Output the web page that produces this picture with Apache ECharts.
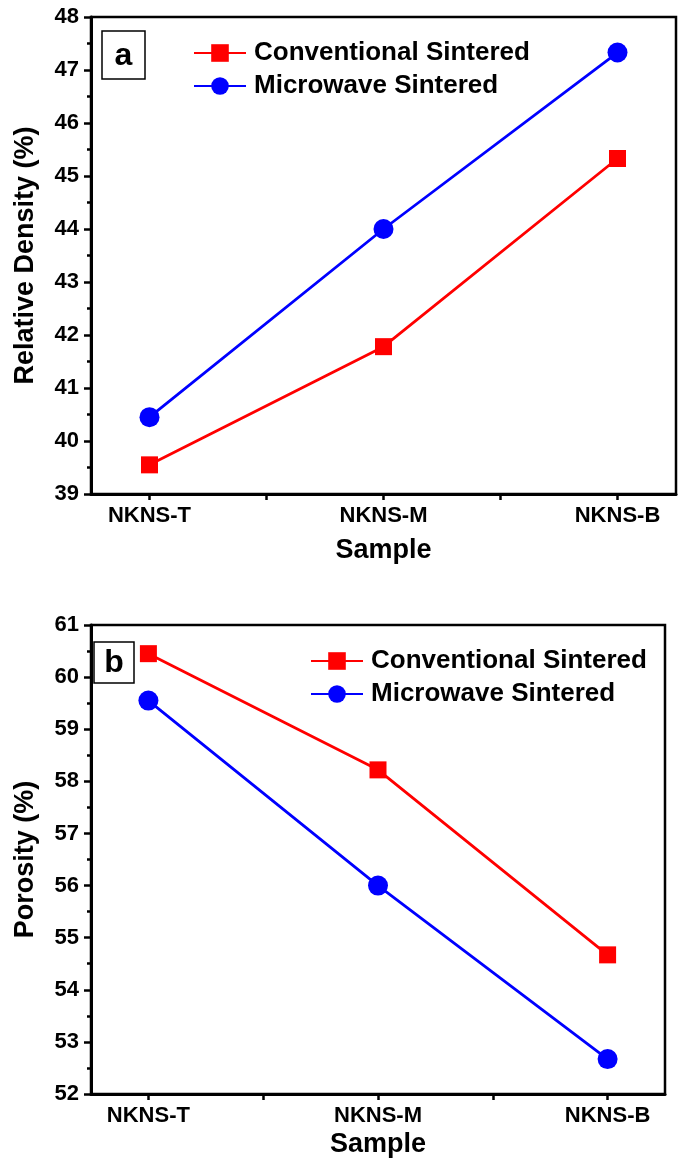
<!DOCTYPE html>
<html>
<head>
<meta charset="utf-8">
<script src="https://cdn.jsdelivr.net/npm/echarts@6/dist/echarts.min.js"></script>
<style>
  html, body { margin: 0; padding: 0; background: #fff; }
  #chart { width: 685px; height: 1167px; }
</style>
</head>
<body>
<div id="chart"></div>
<script>
// data
const samples = ['NKNS-T', 'NKNS-M', 'NKNS-B'];
const densityConventional = [39.55, 41.78, 45.33];
const densityMicrowave = [40.45, 44.0, 47.33];
const porosityConventional = [60.45, 58.22, 54.67];
const porosityMicrowave = [59.55, 56.0, 52.67];

const FONT = 'Liberation Sans, Arial, sans-serif';
const RED = '#ff0000';
const BLUE = '#0000ff';

function pairs(vals) {
    return vals.map((v, i) => [i, v]);
}

function xAxis(gridIndex, nameGap) {
    return {
        gridIndex: gridIndex,
        type: 'value',
        min: -0.25,
        max: 2.25,
        interval: 0.5,
        name: 'Sample',
        nameLocation: 'middle',
        nameGap: nameGap,
        nameTextStyle: { fontFamily: FONT, fontWeight: 'bold', fontSize: 27, color: '#000' },
        axisLine: { onZero: false, lineStyle: { color: '#000', width: 3 } },
        axisTick: { show: true, length: 6, lineStyle: { color: '#000', width: 2.5 },
            customValues: [0, 0.5, 1, 1.5, 2] },
        axisLabel: {
            fontFamily: FONT, fontWeight: 'bold', fontSize: 22, color: '#000', margin: 11,
            customValues: [0, 1, 2],
            formatter: v => samples[Math.round(v)] || ''
        },
        splitLine: { show: false }
    };
}

function yAxis(gridIndex, min, max, name) {
    return {
        gridIndex: gridIndex,
        type: 'value',
        min: min,
        max: max,
        interval: 1,
        name: name,
        nameLocation: 'middle',
        nameGap: 52,
        nameTextStyle: { fontFamily: FONT, fontWeight: 'bold', fontSize: 27, color: '#000' },
        axisLine: { show: true, onZero: false, lineStyle: { color: '#000', width: 3 } },
        axisTick: { show: true, length: 7, lineStyle: { color: '#000', width: 2.5 } },
        minorTick: { show: true, splitNumber: 2, length: 4, lineStyle: { color: '#000', width: 2.5 } },
        axisLabel: { fontFamily: FONT, fontWeight: 'bold', fontSize: 22, color: '#000', margin: 12 },
        splitLine: { show: false }
    };
}

function lineSeries(name, vals, idx, symbol, size, color) {
    return {
        name: name,
        type: 'line',
        xAxisIndex: idx,
        yAxisIndex: idx,
        data: pairs(vals),
        symbol: symbol,
        symbolSize: size,
        showAllSymbol: true,
        lineStyle: { color: color, width: 2.8 },
        itemStyle: { color: color },
        z: symbol === 'rect' ? 3 : 4
    };
}

function legend(left, top) {
    return {
        orient: 'vertical',
        left: left,
        top: top,
        padding: 0,
        itemWidth: 52,
        itemHeight: 22,
        itemGap: 7,
        data: ['Conventional Sintered', 'Microwave Sintered'],
        textStyle: { fontFamily: FONT, fontWeight: 'bold', fontSize: 26, lineHeight: 26,
                     color: '#000', padding: [0, 0, 0, 3] }
    };
}

function labelBox(letter, x, y, w, h) {
    return {
        type: 'group',
        children: [
            { type: 'rect', shape: { x: x, y: y, width: w, height: h },
              style: { fill: '#fff', stroke: '#000', lineWidth: 1.5 } },
            { type: 'text', x: x + w / 2, y: y + h / 2 + 1,
              style: { text: letter, fontFamily: FONT, fontWeight: 'bold', fontSize: 32,
                       fill: '#000', align: 'center', verticalAlign: 'middle' } }
        ]
    };
}

const chart = echarts.init(document.getElementById('chart'));
chart.setOption({
    animation: false,
    backgroundColor: '#fff',
    grid: [
        { left: 91, top: 17, right: 9, height: 477, show: true, borderColor: '#000', borderWidth: 2.5, containLabel: false },
        { left: 91, top: 625, right: 20, height: 469, show: true, borderColor: '#000', borderWidth: 2.5, containLabel: false }
    ],
    xAxis: [xAxis(0, 43), xAxis(1, 37)],
    yAxis: [
        yAxis(0, 39, 48, 'Relative Density (%)'),
        yAxis(1, 52, 61, 'Porosity (%)')
    ],
    legend: [legend(193, 40), legend(310, 648)],
    series: [
        lineSeries('Conventional Sintered', densityConventional, 0, 'rect', 17, RED),
        lineSeries('Microwave Sintered', densityMicrowave, 0, 'circle', 20, BLUE),
        lineSeries('Conventional Sintered', porosityConventional, 1, 'rect', 17, RED),
        lineSeries('Microwave Sintered', porosityMicrowave, 1, 'circle', 20, BLUE)
    ],
    graphic: [
        labelBox('a', 102, 31, 43, 48),
        labelBox('b', 94, 642, 40, 41)
    ]
});
</script>
</body>
</html>
